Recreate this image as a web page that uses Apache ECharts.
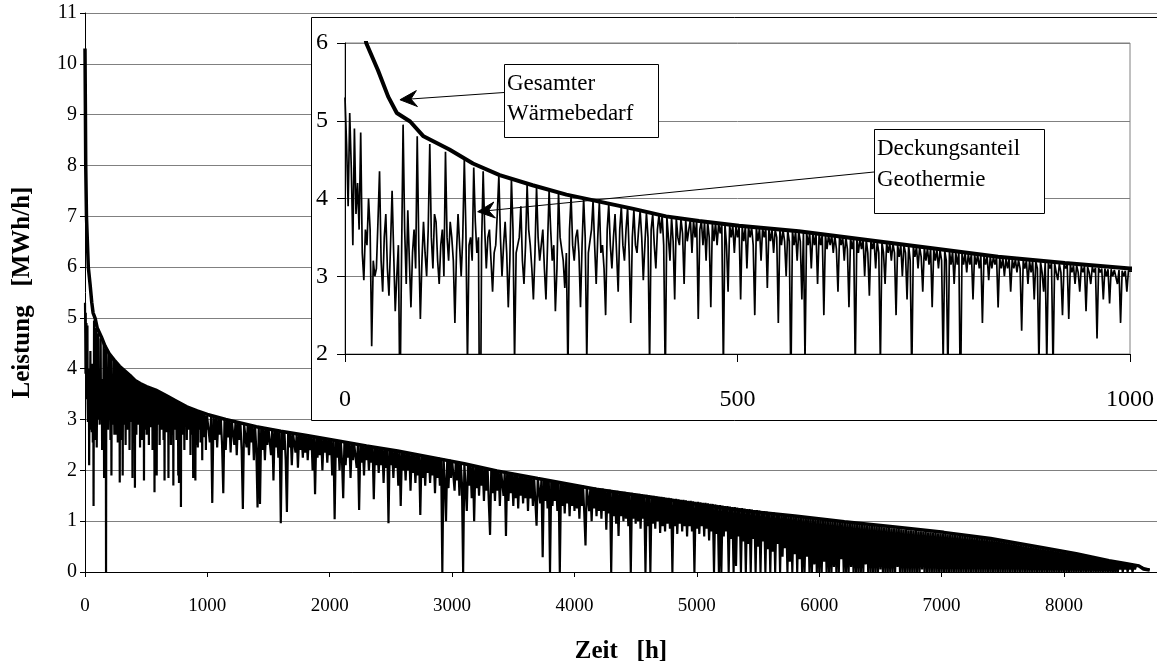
<!DOCTYPE html>
<html><head><meta charset="utf-8">
<script src="https://cdn.jsdelivr.net/npm/echarts/dist/echarts.min.js"></script>
<style>html,body{margin:0;padding:0;background:#fff}#c{width:1157px;height:669px}</style>
</head><body><div id="c"></div>
<script>
// ---- data ----
const demandHours = [0,3,6,12,27,42,55,66,83,100,133,163,197,239,282,324,366,409,451,502,578,663,748,832,917,1000,1150,1400,1600,1800,2070,2300,2555,2800,3100,3366,3700,4177,4600,4988,5400,5800,6206,6600,7017,7400,7828,8100,8368,8500,8612,8650,8700];
const demandValues = [10.3,9.2,8.0,7.0,6.0,5.65,5.31,5.10,4.99,4.80,4.63,4.45,4.30,4.17,4.05,3.96,3.87,3.77,3.71,3.65,3.58,3.47,3.36,3.25,3.17,3.10,3.00,2.86,2.77,2.69,2.58,2.48,2.38,2.27,2.13,1.99,1.84,1.63,1.48,1.34,1.20,1.10,0.99,0.89,0.78,0.66,0.48,0.36,0.22,0.17,0.12,0.06,0.04];

// Deckungsanteil Geothermie, hours 0..1000, every 2 h (10 values per row = 20 h)
const geoFirstStep = 2;
const geoFirst = [
5.30,4.70,3.90,5.10,4.40,3.40,4.90,3.80,4.20,3.60,
4.85,3.30,2.95,3.60,3.40,4.00,3.60,2.10,3.20,3.00,
3.10,3.70,4.35,3.20,2.80,3.50,3.80,3.10,2.75,3.40,
4.10,3.30,2.55,3.00,3.40,1.30,3.20,4.95,3.60,2.90,
3.85,3.20,2.60,3.30,3.60,3.10,4.80,3.40,2.45,3.20,
3.70,3.30,3.00,3.60,4.70,3.50,3.10,3.80,3.70,3.20,
2.90,3.40,3.60,3.00,4.60,3.50,3.20,3.70,3.50,3.20,
2.40,3.30,3.80,3.40,3.00,3.50,4.50,3.60,1.85,3.40,
3.50,3.20,4.40,3.70,3.30,3.50,0.00,3.40,4.35,3.60,
3.10,3.50,3.60,3.20,2.80,3.30,3.40,3.80,4.30,3.50,
3.00,3.40,3.70,3.30,2.60,3.20,4.25,3.60,1.90,3.30,
3.30,3.50,3.90,3.20,2.90,3.40,4.18,3.60,3.40,3.10,
2.70,3.30,4.15,3.50,3.20,3.40,3.60,3.10,2.70,3.40,
4.10,3.60,3.20,3.40,2.55,3.10,4.08,3.50,3.50,3.20,
2.85,3.30,1.76,3.60,4.03,3.40,3.20,3.50,3.60,3.30,
2.60,3.40,4.00,3.50,1.90,3.30,3.30,3.60,3.97,3.40,
2.90,3.50,3.95,3.30,3.40,3.10,2.50,3.60,3.93,3.40,
3.10,3.50,3.80,3.30,2.80,3.60,3.90,3.40,3.20,3.60,
3.88,3.30,2.40,3.50,3.85,3.40,3.30,3.60,3.84,3.50,
2.95,3.40,3.82,3.50,1.85,3.60,3.80,3.40,3.10,3.60,
3.79,
3.55,3.78,3.40,1.66,3.77,3.50,3.20,3.76,3.45,2.70,
3.75,3.50,3.40,3.74,3.55,2.90,3.73,3.45,3.60,3.73,
3.30,3.72,3.50,3.72,2.45,3.60,3.71,3.40,3.70,3.20,
3.70,3.50,2.60,3.69,3.45,3.69,3.40,3.68,3.55,3.68,
1.80,3.67,3.40,2.80,3.66,3.50,3.66,3.30,3.65,3.50,
3.65,2.70,3.64,3.45,3.64,3.10,3.64,3.50,3.63,3.40,
2.50,3.63,3.45,3.62,3.20,3.62,3.50,3.62,2.85,3.61,
3.45,3.61,3.30,3.60,3.50,2.40,3.60,3.40,3.60,3.45,
3.00,3.59,3.45,1.57,3.59,3.40,3.58,3.20,3.58,3.45,
2.70,3.57,1.90,3.57,3.40,3.56,3.10,3.56,3.40,3.55,
2.90,3.55,3.40,3.54,2.50,3.54,3.35,3.53,3.40,3.53,
3.30,3.52,3.35,2.80,3.52,3.40,3.51,3.20,3.51,3.35,
2.60,3.50,3.35,3.49,1.80,3.49,3.30,3.48,3.35,3.48,
3.00,3.47,3.30,2.75,3.46,3.35,3.46,3.10,3.45,3.30,
1.85,3.44,3.30,2.90,3.43,3.30,3.43,3.20,3.42,3.30,
2.50,3.41,3.25,3.41,3.00,3.40,3.30,2.70,3.40,3.20,
1.70,3.39,3.25,3.38,3.10,3.38,3.25,2.80,3.37,3.20,
3.36,3.15,3.36,2.60,3.35,3.20,3.35,3.10,3.34,3.20,
1.90,3.33,3.20,1.75,3.33,3.15,3.32,2.90,3.31,3.15,
3.31,1.28,3.30,3.15,3.30,3.05,3.29,3.15,3.29,2.70,
3.28,3.15,3.28,3.10,3.27,2.40,3.27,3.15,3.26,2.95,
3.26,3.10,3.25,3.15,3.25,2.60,3.24,3.10,3.24,3.00,
3.23,3.10,3.23,2.80,3.22,3.10,3.22,3.05,3.21,3.10,
2.30,3.21,3.10,3.20,2.90,3.20,3.05,3.20,2.70,3.19,
3.10,1.85,3.19,3.05,2.80,3.18,1.90,3.18,3.10,3.17,
1.80,3.17,3.05,2.95,3.16,3.05,2.50,3.16,3.10,3.15,
2.45,3.15,3.05,3.14,2.90,3.14,3.05,2.80,3.13,3.05,
3.13,2.55,3.12,3.05,2.90,3.12,3.05,3.11,2.20,3.11,
3.05,3.10,2.70,3.10,3.00,3.09,2.65,3.09,3.00,3.08,
3.08,2.90,3.08,2.40,3.07,3.00,3.07,2.80,3.07,3.06];

// Deckungsanteil Geothermie, hours 1010..8700, every 10 h (10 values per row = 100 h)
const geoRestStart = 1010;
const geoRestStep = 10;
const geoRest = [
3.06,2.55,3.05,1.36,3.05,2.60,3.04,2.45,3.03,2.70,
3.02,2.50,1.55,3.01,2.40,3.00,2.65,2.99,2.35,2.97,
2.96,2.50,2.96,2.30,2.95,2.60,2.94,2.40,1.24,2.92,
2.91,2.45,2.90,2.30,2.89,2.55,2.88,2.20,2.87,2.40,
1.27,2.86,1.34,2.85,2.40,2.84,2.20,2.83,2.50,2.82,
2.81,2.30,2.81,1.80,2.80,2.45,2.79,2.25,2.78,0.96,
2.77,2.40,2.76,2.20,1.18,2.75,2.45,2.74,2.10,2.73,
2.72,2.35,2.72,2.05,2.71,2.40,2.70,2.25,2.70,2.35,
2.69,2.20,2.68,2.40,2.68,2.00,2.67,1.53,2.66,2.25,
2.65,2.30,2.64,2.00,2.64,2.35,2.63,2.15,2.62,2.30,
2.61,1.90,2.60,1.04,2.60,2.25,2.59,2.00,2.58,2.20,
1.45,2.57,2.10,2.56,2.25,2.55,1.85,2.54,2.20,2.52,
2.52,2.05,2.51,1.22,2.50,2.15,2.50,1.90,2.49,2.20,
2.48,2.00,2.47,2.15,2.47,1.43,2.46,2.10,2.45,1.95,
2.44,2.10,2.44,1.75,2.43,2.05,2.42,0.96,2.41,2.10,
2.40,1.85,2.40,2.05,2.39,1.70,2.38,1.30,2.37,2.00,
2.36,1.80,2.36,2.00,2.35,1.60,2.34,1.95,2.33,1.75,
2.32,1.90,2.31,1.12,2.30,1.85,2.30,1.70,2.29,1.95,
2.28,1.75,2.27,1.90,2.26,1.55,2.26,1.85,2.25,1.70,
2.24,0.00,2.23,1.80,1.00,2.22,1.65,2.21,1.85,2.20,
2.19,1.60,2.18,1.80,2.17,1.50,2.16,1.75,0.00,2.14,
2.13,1.20,2.12,1.70,2.11,1.45,2.10,1.00,2.09,1.65,
2.08,1.50,2.07,1.70,2.06,1.40,2.05,1.60,2.04,1.35,
0.73,2.03,1.55,2.02,1.40,2.01,1.60,2.00,1.30,1.99,
1.98,1.50,1.97,0.71,1.96,1.40,1.95,1.55,1.94,1.30,
1.93,1.45,1.92,1.25,1.91,1.50,1.90,1.35,1.90,1.45,
1.89,1.20,1.88,1.45,1.87,1.30,1.86,1.40,0.91,1.85,
1.84,1.35,1.83,0.29,1.83,1.40,1.82,1.25,1.81,0.00,
1.80,1.30,1.79,1.40,1.78,1.20,1.78,0.00,1.77,1.30,
1.76,1.15,1.75,1.35,1.75,1.10,1.74,1.30,1.73,1.20,
1.72,1.25,1.71,1.05,1.71,1.30,1.70,1.15,0.52,1.69,
1.68,1.20,1.67,1.00,1.67,1.25,1.66,1.10,1.65,1.20,
1.64,1.05,1.64,1.20,1.63,0.83,1.62,1.15,1.62,0.00,
1.61,1.10,1.60,0.95,1.60,0.71,1.59,1.10,1.58,1.00,
1.58,1.05,1.57,0.90,1.56,0.00,1.56,1.05,1.55,0.95,
1.54,1.00,1.54,0.85,1.53,1.05,1.52,0.00,1.52,0.90,
1.51,0.00,1.50,0.95,1.50,0.85,1.49,1.00,1.48,0.77,
1.48,0.90,1.47,0.80,1.46,0.95,1.46,0.85,1.45,0.00,
1.44,0.90,1.44,0.75,1.43,0.95,1.42,0.80,1.42,0.90,
1.41,0.70,1.40,0.90,1.40,0.80,1.39,0.00,1.38,0.85,
1.38,0.75,1.37,0.90,1.36,0.70,1.36,0.85,1.35,0.62,
1.34,0.80,1.34,0.00,1.33,0.75,1.32,0.00,1.32,0.00,
1.31,0.70,1.30,0.80,1.30,0.00,1.29,0.65,1.28,0.00,
1.28,0.12,1.27,0.70,1.26,0.00,1.26,0.60,1.25,0.00,
1.24,0.55,1.24,0.00,1.23,0.65,1.22,0.00,1.22,0.50,
1.21,0.00,1.20,0.60,1.20,0.00,1.19,0.45,1.18,0.00,
1.18,0.40,1.17,0.00,1.16,0.55,1.16,0.00,1.15,0.30,
1.14,0.47,1.14,0.00,1.13,0.20,1.12,0.00,1.12,0.35,
1.11,0.00,1.10,0.25,1.09,0.00,1.09,0.00,1.08,0.30,
1.07,0.00,1.07,0.00,1.06,0.15,1.05,0.00,1.05,0.00,
1.04,0.00,1.03,0.20,1.03,0.00,1.02,0.00,1.01,0.00,
1.01,0.10,1.00,0.00,1.00,0.00,0.99,0.25,0.98,0.00,
0.98,0.00,0.97,0.00,0.97,0.10,0.96,0.00,0.95,0.00,
0.95,0.00,0.94,0.00,0.94,0.00,0.93,0.15,0.92,0.00,
0.92,0.00,0.91,0.00,0.91,0.00,0.90,0.00,0.89,0.05,
0.89,0.00,0.88,0.00,0.88,0.00,0.87,0.00,0.86,0.00,
0.86,0.00,0.85,0.10,0.85,0.00,0.84,0.00,0.83,0.00,
0.83,0.00,0.82,0.00,0.82,0.00,0.81,0.00,0.81,0.00,
0.80,0.00,0.80,0.05,0.79,0.00,0.79,0.00,0.78,0.00,
0.78,0.00,0.77,0.00,0.77,0.00,0.76,0.00,0.76,0.00,
0.75,0.00,0.75,0.00,0.74,0.00,0.74,0.00,0.73,0.00,
0.73,0.00,0.72,0.00,0.72,0.00,0.71,0.00,0.71,0.00,
0.70,0.00,0.70,0.00,0.69,0.00,0.69,0.00,0.68,0.00,
0.68,0.00,0.67,0.00,0.67,0.00,0.66,0.00,0.66,0.00,
0.65,0.00,0.65,0.00,0.64,0.00,0.64,0.00,0.63,0.00,
0.62,0.00,0.61,0.00,0.60,0.00,0.59,0.00,0.58,0.00,
0.57,0.00,0.56,0.00,0.55,0.00,0.54,0.00,0.53,0.00,
0.52,0.00,0.51,0.00,0.51,0.00,0.50,0.00,0.49,0.00,
0.48,0.00,0.47,0.00,0.47,0.00,0.46,0.00,0.45,0.00,
0.44,0.00,0.43,0.00,0.42,0.00,0.41,0.00,0.40,0.00,
0.39,0.00,0.38,0.00,0.38,0.00,0.37,0.00,0.36,0.00,
0.35,0.00,0.34,0.00,0.33,0.00,0.32,0.00,0.31,0.00,
0.30,0.00,0.29,0.00,0.28,0.00,0.27,0.00,0.26,0.00,
0.25,0.00,0.24,0.00,0.23,0.00,0.22,0.00,0.21,0.00,
0.20,0.00,0.20,0.00,0.19,0.05,0.18,0.00,0.17,0.05,
0.17,0.00,0.16,0.05,0.15,0.00,0.14,0.05,0.13,0.10,
0.12,0.11,0.10,0.09,0.08,0.07,0.06,0.05,0.05,0.04];

const xTitle = 'Zeit   [h]';
const yTitle = 'Leistung   [MWh/h]';
const noteDemand = 'Gesamter\nWärmebedarf';
const noteGeo = 'Deckungsanteil\nGeothermie';
// arrow targets in inset data coordinates [h, MWh/h]
const noteDemandTarget = [70, 5.27];
const noteGeoTarget = [169, 3.83];

// ---- build series data ----
const demandPairs = demandHours.map((h, i) => [h, demandValues[i]]);
const geoPairs = geoFirst.map((v, i) => [i * geoFirstStep, v])
  .concat(geoRest.map((v, i) => [geoRestStart + i * geoRestStep, v]));

const FONT = '"Liberation Serif", "Times New Roman", serif';
const GRID_GREY = '#808080';
const plain = v => String(v);

const chart = echarts.init(document.getElementById('c'), null, {renderer: 'canvas'});
chart.setOption({
  animation: false,
  backgroundColor: '#fff',
  grid: [
    {left: 85, top: 13, width: 1080, height: 560, show: false},
    {left: 345, top: 43, width: 787, height: 311, show: true, borderColor: GRID_GREY, borderWidth: 1, backgroundColor: 'rgba(0,0,0,0)', z: 20}
  ],
  xAxis: [
    {gridIndex: 0, type: 'value', min: 0, max: 8760, interval: 1000,
     axisLine: {show: true, onZero: false, lineStyle: {color: '#000', width: 1}},
     axisTick: {show: true, length: 5, lineStyle: {color: '#000'}},
     axisLabel: {fontFamily: FONT, fontSize: 19, color: '#000', margin: 25, showMaxLabel: false, formatter: plain},
     splitLine: {show: false},
     name: xTitle, nameLocation: 'middle', nameGap: 67,
     nameTextStyle: {fontFamily: FONT, fontSize: 25, fontWeight: 'bold', color: '#000'}},
    {gridIndex: 1, type: 'value', min: 0, max: 1000, interval: 500, z: 21,
     axisLine: {show: true, onZero: false, lineStyle: {color: '#000', width: 1}},
     axisTick: {show: true, length: 8, lineStyle: {color: '#000'}},
     axisLabel: {fontFamily: FONT, fontSize: 24, color: '#000', margin: 34, formatter: plain},
     splitLine: {show: false}}
  ],
  yAxis: [
    {gridIndex: 0, type: 'value', min: 0, max: 11, interval: 1,
     axisLine: {show: true, onZero: false, lineStyle: {color: '#000', width: 1}},
     axisTick: {show: true, length: 5, lineStyle: {color: '#000'}},
     axisLabel: {fontFamily: FONT, fontSize: 20, color: '#000', margin: 8, formatter: plain},
     splitLine: {show: true, lineStyle: {color: GRID_GREY, width: 1}},
     name: yTitle, nameLocation: 'middle', nameGap: 50,
     nameTextStyle: {fontFamily: FONT, fontSize: 25, fontWeight: 'bold', color: '#000'}},
    {gridIndex: 1, type: 'value', min: 2, max: 6, interval: 1, z: 21,
     axisLine: {show: true, onZero: false, lineStyle: {color: '#000', width: 1}},
     axisTick: {show: true, length: 8, lineStyle: {color: '#000'}},
     axisLabel: {fontFamily: FONT, fontSize: 24, color: '#000', margin: 17, formatter: plain},
     splitLine: {show: true, lineStyle: {color: GRID_GREY, width: 1}}}
  ],
  series: [
    {name: 'Deckungsanteil Geothermie', type: 'line', xAxisIndex: 0, yAxisIndex: 0, data: geoPairs,
     showSymbol: false, symbol: 'none', lineStyle: {color: '#000', width: 2.2}, z: 2, silent: true},
    {name: 'Gesamter Wärmebedarf', type: 'line', xAxisIndex: 0, yAxisIndex: 0, data: demandPairs,
     showSymbol: false, symbol: 'none', lineStyle: {color: '#000', width: 3.5}, z: 3, silent: true},
    {name: 'Deckungsanteil Geothermie (Ausschnitt)', type: 'line', xAxisIndex: 1, yAxisIndex: 1, data: geoPairs,
     showSymbol: false, symbol: 'none', lineStyle: {color: '#000', width: 1.7}, z: 25, silent: true, clip: true},
    {name: 'Gesamter Wärmebedarf (Ausschnitt)', type: 'line', xAxisIndex: 1, yAxisIndex: 1, data: demandPairs,
     showSymbol: false, symbol: 'none', lineStyle: {color: '#000', width: 4}, z: 26, silent: true, clip: true}
  ]
});

function arrow(id, from, tipData) {
  const tip = chart.convertToPixel({xAxisIndex: 1, yAxisIndex: 1}, tipData);
  const dx = from[0] - tip[0], dy = from[1] - tip[1];
  const L = Math.sqrt(dx * dx + dy * dy);
  const ux = dx / L, uy = dy / L, px = -uy, py = ux;
  const head = 17, half = 8, notch = 11;
  return [
    {type: 'line', id: id + '-l', z: 40, silent: true,
     shape: {x1: from[0], y1: from[1], x2: tip[0] + ux * notch, y2: tip[1] + uy * notch},
     style: {stroke: '#000', lineWidth: 1}},
    {type: 'polygon', id: id + '-h', z: 40, silent: true,
     shape: {points: [
       [tip[0], tip[1]],
       [tip[0] + ux * head + px * half, tip[1] + uy * head + py * half],
       [tip[0] + ux * notch, tip[1] + uy * notch],
       [tip[0] + ux * head - px * half, tip[1] + uy * head - py * half]
     ]},
     style: {fill: '#000', stroke: '#000', lineWidth: 1}}
  ];
}

const g = [
  {type: 'rect', id: 'insetBox', z: 10, silent: true,
   shape: {x: 311.5, y: 17.5, width: 900, height: 403},
   style: {fill: '#fff', stroke: '#000', lineWidth: 1}},
  {type: 'rect', id: 'noteDemandBox', z: 40, silent: true,
   shape: {x: 504.5, y: 64.5, width: 154, height: 73},
   style: {fill: '#fff', stroke: '#000', lineWidth: 1}},
  {type: 'text', id: 'noteDemandText', z: 41, silent: true, x: 507, y: 69,
   style: {text: noteDemand, font: '23px ' + FONT, fill: '#000', lineHeight: 30}},
  {type: 'rect', id: 'noteGeoBox', z: 40, silent: true,
   shape: {x: 874.5, y: 129.5, width: 170, height: 84},
   style: {fill: '#fff', stroke: '#000', lineWidth: 1}},
  {type: 'text', id: 'noteGeoText', z: 41, silent: true, x: 877, y: 133,
   style: {text: noteGeo, font: '23px ' + FONT, fill: '#000', lineHeight: 31}}
].concat(arrow('a1', [504, 92.5], noteDemandTarget))
 .concat(arrow('a2', [874, 172], noteGeoTarget));

chart.setOption({graphic: g});
</script></body></html>
